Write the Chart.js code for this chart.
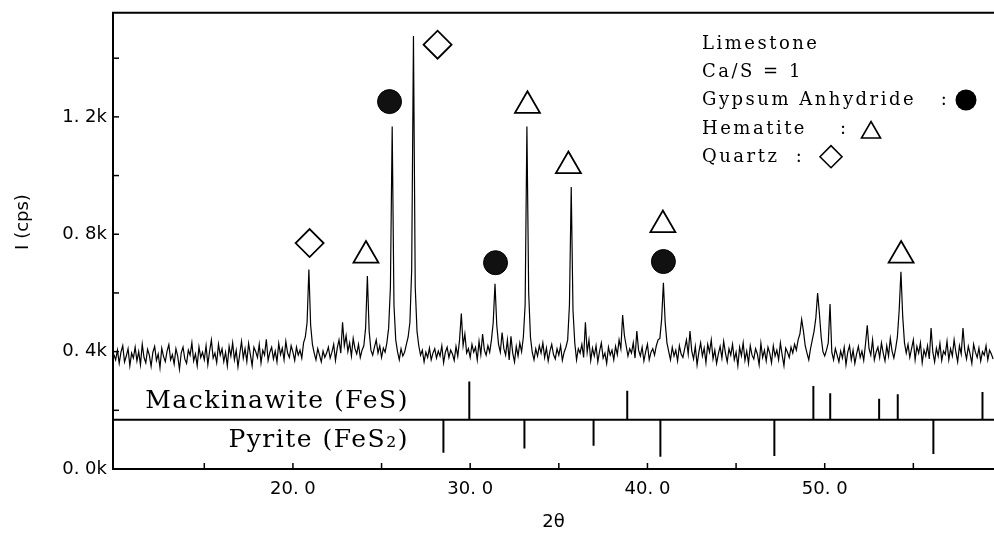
<!DOCTYPE html>
<html>
<head>
<meta charset="utf-8">
<script src="https://cdn.jsdelivr.net/npm/chart.js@4.4.1/dist/chart.umd.min.js"></script>
<style>
html,body{margin:0;padding:0;background:#fff;overflow:hidden;}
#wrap{position:relative;width:994px;height:536px;overflow:hidden;}
canvas{display:block;}
</style>
</head>
<body>
<div id="wrap"><canvas id="c"></canvas></div>
<script>
// ---- data ----
const thetaStart = 9.9;      // first 2θ sample
const thetaStep = 0.1;       // 2θ sampling step
const intensity = [
  390,
  372,405,360,398,420,365,385,410,352,395,   // 10
  378,415,368,400,355,425,380,362,408,388,   // 11
  350,398,418,370,392,345,412,384,366,402,   // 12
  424,372,390,358,410,385,340,396,415,375,   // 13
  360,405,388,430,368,392,352,416,380,398,   // 14
  372,420,356,402,440,378,395,362,425,388,   // 15
  410,366,398,352,418,385,430,372,404,348,   // 16
  392,435,378,410,366,428,390,352,415,400,   // 17
  380,425,362,405,388,442,370,398,415,375,   // 18
  402,365,428,390,412,372,435,395,380,420,   // 19
  398,370,415,388,405,378,430,450,500,680,   // 20
  490,425,395,372,410,388,365,402,380,395,   // 21
  415,378,398,425,370,412,440,395,500,420,   // 22
  455,400,430,385,445,410,392,425,380,405,   // 23
  420,480,658,470,405,388,415,440,395,420,   // 24
  380,412,398,430,480,620,1167,560,440,400,  // 25
  372,410,385,398,425,450,500,680,1476,620,  // 26
  470,420,388,405,365,398,380,412,372,395,   // 27
  410,378,402,385,420,362,398,415,380,405,   // 28
  392,370,418,385,440,530,420,460,395,410,   // 29
  380,425,398,415,372,435,390,460,405,388,   // 30
  420,398,440,500,631,490,425,398,465,410,   // 31
  388,440,372,452,395,365,418,385,430,400,   // 32
  450,560,1167,600,450,398,372,410,385,420,  // 33
  395,430,380,412,368,402,425,390,375,410,   // 34
  388,420,370,398,415,440,560,961,540,430,   // 35
  372,410,395,425,380,500,398,440,370,412,   // 36
  385,420,365,402,430,378,395,360,415,388,   // 37
  405,372,418,390,440,410,525,455,420,385,   // 38
  410,395,430,378,470,405,385,415,368,400,   // 39
  425,372,398,410,388,420,440,445,510,635,   // 40
  500,430,400,372,415,385,405,368,420,392,   // 41
  380,410,440,392,470,402,375,418,355,398,   // 42
  430,385,412,362,425,398,440,375,405,360,   // 43
  392,418,378,435,395,365,410,388,425,372,   // 44
  398,352,415,386,430,370,402,360,420,388,   // 45
  375,410,392,355,428,380,405,368,415,395,   // 46
  362,420,385,405,372,430,388,352,412,398,   // 47
  380,415,395,425,405,440,460,510,470,420,   // 48
  395,372,410,440,470,515,600,530,450,400,   // 49
  385,405,430,562,398,372,410,388,365,402,   // 50
  378,415,355,398,420,372,405,360,392,418,   // 51
  380,402,370,425,490,410,388,440,372,398,   // 52
  415,380,430,395,368,420,385,445,402,378,   // 53
  410,450,540,672,520,430,395,425,380,410,   // 54
  440,372,418,395,430,362,405,385,420,375,   // 55
  480,398,365,412,385,428,370,402,390,435,   // 56
  372,410,385,440,398,365,420,392,480,405,   // 57
  375,418,392,360,425,398,380,412,368,400,   // 58
  388,420,372,405,392,375                    // 59
];

// phase markers (2θ, intensity of the symbol centre)
const quartzTheta   = [20.94, 28.16];
const quartzI       = [770, 1446];
const hematiteTheta = [24.12, 33.23, 35.54, 40.87, 54.31];
const hematiteI     = [728, 1238, 1033, 832, 728];
const gypsumTheta   = [25.45, 31.43, 40.90];
const gypsumI       = [1252, 703, 707];

// reference stick patterns
const refLineI      = 168;
const mackTheta     = [29.95, 38.86, 49.36, 50.31, 53.07, 54.12, 58.90];
const mackTop       = [298, 267, 283, 258, 239, 255, 262];
const pyriteTheta   = [28.49, 33.06, 36.96, 40.73, 47.16, 56.13];
const pyriteBottom  = [55, 70, 79, 42, 44, 51];

// axis range and tick labels
const xMin = 9.85, xMax = 59.55;
const yMin = 0, yMax = 1555;
const xTickLabels = {20: '20. 0', 30: '30. 0', 40: '40. 0', 50: '50. 0'};
const yTickLabels = {0: '0. 0k', 400: '0. 4k', 800: '0. 8k', 1200: '1. 2k'};

// texts
const legendLines = ['Limestone', 'Ca/S = 1', 'Gypsum Anhydride   :', 'Hematite    :', 'Quartz  :'];
const mackLabel = 'Mackinawite (FeS)';
const pyriteLabel = 'Pyrite (FeS\u2082)';
const xTitle = '2\u03b8';
const yTitle = 'I (cps)';

// ---- build datasets ----
const spectrum = intensity.map((v, i) => ({x: +(thetaStart + i * thetaStep).toFixed(2), y: v}));
const toPts = (xs, ys) => xs.map((t, i) => ({x: t, y: ys[i]}));
const sticks = (xs, ends) => xs.flatMap((t, i) => [{x: t, y: refLineI}, {x: t, y: ends[i]}, {x: t, y: null}]);

const annot = {
  id: 'annot',
  afterDraw(chart) {
    const {ctx, chartArea: a} = chart;
    const xs = chart.scales.x, ys = chart.scales.y;
    ctx.save();
    ctx.strokeStyle = '#000';
    ctx.fillStyle = '#000';
    // top frame line
    ctx.lineWidth = 2;
    ctx.beginPath(); ctx.moveTo(a.left - 1, a.top); ctx.lineTo(a.right, a.top); ctx.stroke();
    // inward tick marks
    ctx.lineWidth = 1.5;
    ys.ticks.forEach(t => {
      if (t.value <= 0) return;
      const py = ys.getPixelForValue(t.value);
      ctx.beginPath(); ctx.moveTo(a.left, py); ctx.lineTo(a.left + 6, py); ctx.stroke();
    });
    xs.ticks.forEach(t => {
      if (t.value < 12) return;
      const px = xs.getPixelForValue(t.value);
      ctx.beginPath(); ctx.moveTo(px, a.bottom); ctx.lineTo(px, a.bottom - 6); ctx.stroke();
    });
    // y axis title (rotated)
    ctx.save();
    ctx.translate(23, 222);
    ctx.rotate(-Math.PI / 2);
    ctx.font = '18px "DejaVu Sans", sans-serif';
    ctx.textAlign = 'center';
    ctx.textBaseline = 'middle';
    ctx.fillText(yTitle, 0, 0);
    ctx.restore();
    // legend block
    ctx.font = '18px "DejaVu Serif", "Liberation Serif", serif';
    if ('letterSpacing' in ctx) ctx.letterSpacing = '2.5px';
    ctx.textAlign = 'left';
    ctx.textBaseline = 'alphabetic';
    legendLines.forEach((s, i) => ctx.fillText(s, 702, 49 + 28.2 * i));
    // legend symbols
    ctx.lineWidth = 1.6;
    ctx.beginPath(); ctx.arc(966, 100, 10.5, 0, Math.PI * 2); ctx.fill();
    let cx = 871, cy = 132.5, r = 11;
    ctx.beginPath();
    ctx.moveTo(cx, cy - r); ctx.lineTo(cx + 0.866 * r, cy + r / 2); ctx.lineTo(cx - 0.866 * r, cy + r / 2); ctx.closePath();
    ctx.stroke();
    cx = 831; cy = 156.7; r = 11;
    ctx.beginPath();
    ctx.moveTo(cx - r, cy); ctx.lineTo(cx, cy - r); ctx.lineTo(cx + r, cy); ctx.lineTo(cx, cy + r); ctx.closePath();
    ctx.stroke();
    // stick pattern labels
    ctx.font = '25px "DejaVu Serif", "Liberation Serif", serif';
    if ('letterSpacing' in ctx) ctx.letterSpacing = '1.5px';
    ctx.textAlign = 'right';
    ctx.fillText(mackLabel, 409, 408);
    ctx.fillText(pyriteLabel, 409, 447);
    ctx.restore();
  }
};

Chart.defaults.font.family = '"DejaVu Sans", sans-serif';
Chart.defaults.color = '#000';

new Chart(document.getElementById('c'), {
  type: 'scatter',
  data: {
    datasets: [
      {label: 'Gypsum', data: toPts(gypsumTheta, gypsumI), pointStyle: 'circle', pointRadius: 12,
       backgroundColor: '#111', borderColor: '#000', borderWidth: 1, order: 1},
      {label: 'Hematite', data: toPts(hematiteTheta, hematiteI), pointStyle: 'triangle', pointRadius: 14.4,
       backgroundColor: '#fff', borderColor: '#000', borderWidth: 1.8, order: 1},
      {label: 'Quartz', data: toPts(quartzTheta, quartzI), pointStyle: 'rectRot', pointRadius: 14,
       backgroundColor: '#fff', borderColor: '#000', borderWidth: 1.8, order: 1},
      {label: 'Spectrum', data: spectrum, showLine: true, pointRadius: 0, borderColor: '#000',
       borderWidth: 1.2, tension: 0, order: 5},
      {label: 'Mackinawite', data: sticks(mackTheta, mackTop), showLine: true, spanGaps: false,
       pointRadius: 0, borderColor: '#000', borderWidth: 2, order: 4},
      {label: 'Pyrite', data: sticks(pyriteTheta, pyriteBottom), showLine: true, spanGaps: false,
       pointRadius: 0, borderColor: '#000', borderWidth: 2, order: 4},
      {label: 'Reference line', data: [{x: xMin, y: refLineI}, {x: xMax, y: refLineI}], showLine: true,
       pointRadius: 0, borderColor: '#000', borderWidth: 2, order: 4}
    ]
  },
  options: {
    responsive: true,
    maintainAspectRatio: false,
    animation: false,
    events: [],
    layout: {autoPadding: false, padding: {top: 12.7, left: 0, right: 0, bottom: 0}},
    plugins: {legend: {display: false}, tooltip: {enabled: false}},
    scales: {
      x: {
        type: 'linear', min: xMin, max: xMax,
        grid: {display: false, drawTicks: false},
        border: {display: true, color: '#000', width: 2},
        ticks: {stepSize: 5, includeBounds: false, autoSkip: false, maxRotation: 0, padding: 10,
                font: {size: 18}, color: '#000',
                callback: v => xTickLabels[Math.round(v)] !== undefined && Math.abs(v - Math.round(v)) < 1e-6 ? xTickLabels[Math.round(v)] : ''},
        title: {display: true, text: xTitle, font: {size: 18}, color: '#000', padding: {top: 0, bottom: 3}},
        afterFit: s => { s.height = 67; s.paddingLeft = 0; s.paddingRight = 0; }
      },
      y: {
        type: 'linear', min: yMin, max: yMax,
        grid: {display: false, drawTicks: false},
        border: {display: true, color: '#000', width: 2},
        ticks: {stepSize: 200, includeBounds: false, autoSkip: false, padding: 6,
                font: {size: 18}, color: '#000',
                callback: v => yTickLabels[v] !== undefined ? yTickLabels[v] : ''},
        title: {display: false, text: yTitle},
        afterFit: s => { s.width = 113; s.paddingTop = 0; s.paddingBottom = 0; }
      }
    }
  },
  plugins: [annot]
});
</script>
</body>
</html>
